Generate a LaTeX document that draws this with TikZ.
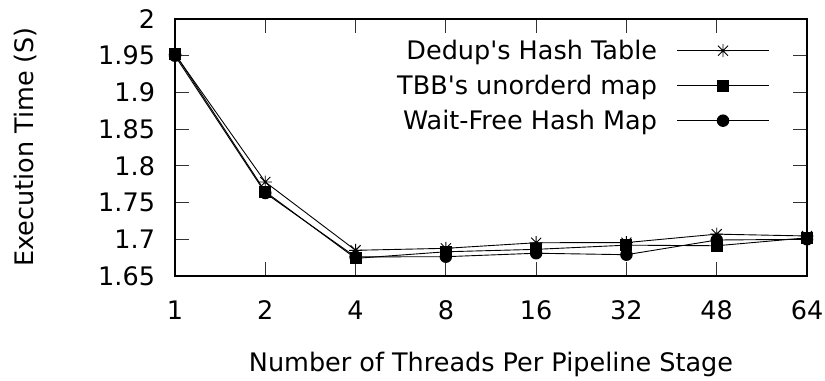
\documentclass[tikz,border=0pt]{standalone}
\usepackage{fontspec}
\setmainfont{DejaVu Sans}
\begin{document}
\begin{tikzpicture}[
  every node/.style={font=\fontsize{25.5bp}{30bp}\selectfont, inner sep=0pt, outer sep=0pt},
  frameline/.style={line width=1.5bp, black},
  tickline/.style={line width=1bp, black!80},
  dataline/.style={line width=0.9bp, black},
  sqm/.style={rectangle, fill=black, draw=none, minimum size=12bp, inner sep=0pt},
  circm/.style={circle, fill=black, draw=none, minimum size=12.5bp, inner sep=0pt},
  starm/.pic={\draw[line width=0.9bp] (-6.5bp,0)--(6.5bp,0) (0,-6.5bp)--(0,6.5bp)
     (-5bp,-5bp)--(5bp,5bp) (-5bp,5bp)--(5bp,-5bp);}
]
\useasboundingbox (0,0) rectangle (825bp,381bp);
% ticks
\foreach \k/\lab in {0/1.65,1/1.7,2/1.75,3/1.8,4/1.85,5/1.9,6/1.95,7/2}{
  \pgfmathsetmacro{\yy}{105+\k*36.714}
  \draw[tickline] (175bp,\yy bp) -- (189bp,\yy bp);
  \draw[tickline] (807bp,\yy bp) -- (793bp,\yy bp);
  \node[anchor=east] (yl\k) at (155bp,\yy bp) {\lab};
}
\foreach \k/\lab in {0/1,1/2,2/4,3/8,4/16,5/32,6/48,7/64}{
  \pgfmathsetmacro{\xx}{175+\k*90.2857}
  \draw[tickline] (\xx bp,105bp) -- (\xx bp,119bp);
  \draw[tickline] (\xx bp,362bp) -- (\xx bp,348bp);
  \node[anchor=base] (xl\k) at (\xx bp,61.7bp) {\lab};
}
\draw[frameline] (175bp,105bp) rectangle (807bp,362bp);
% axis labels
\node[anchor=base] (xlabel) at (491bp,9.3bp) {Number of Threads Per Pipeline Stage};
\node[anchor=base, rotate=90] (ylabel) at (33bp,234bp) {Execution Time (S)};
% data
\begin{scope}[shift={(175bp,-1106.58bp)}, x=90.2857bp, y=734.29bp]
  \draw[dataline] plot coordinates {(0,1.950) (1,1.763) (2,1.676) (3,1.6763) (4,1.681) (5,1.679) (6,1.699) (7,1.700)};
  \draw[dataline] plot coordinates {(0,1.953) (1,1.7648) (2,1.674) (3,1.683) (4,1.6863) (5,1.692) (6,1.6912) (7,1.702)};
  \draw[dataline] plot coordinates {(0,1.952) (1,1.778) (2,1.685) (3,1.6877) (4,1.6953) (5,1.6955) (6,1.707) (7,1.7045)};
  \foreach \i/\v in {0/1.950,1/1.763,2/1.676,3/1.6763,4/1.681,5/1.679,6/1.699,7/1.700}
    \node[circm] (wf\i) at (\i,\v) {};
  \foreach \i/\v in {0/1.953,1/1.7648,2/1.674,3/1.683,4/1.6863,5/1.692,6/1.6912,7/1.702}
    \node[sqm] (tbb\i) at (\i,\v) {};
  \foreach \i/\v in {0/1.952,1/1.778,2/1.685,3/1.6877,4/1.6953,5/1.6955,6/1.707,7/1.7045}
    \pic at (\i,\v) {starm};
\end{scope}
% legend
\node[anchor=base east] (lg1) at (657bp,321bp) {Dedup\textquotesingle s Hash Table};
\node[anchor=base east] (lg2) at (657bp,286bp) {TBB\textquotesingle s unorderd map};
\node[anchor=base east] (lg3) at (657bp,251bp) {Wait-Free Hash Map};
\coordinate (la1) at (677bp,330.3bp); \coordinate (lb1) at (769bp,330.3bp);
\coordinate (la2) at (677bp,295.3bp); \coordinate (lb2) at (769bp,295.3bp);
\coordinate (la3) at (677bp,260.3bp); \coordinate (lb3) at (769bp,260.3bp);
\draw[dataline] (la1) -- (lb1);
\draw[dataline] (la2) -- (lb2);
\draw[dataline] (la3) -- (lb3);
\pic at (723bp,330.3bp) {starm};
\node[sqm] (lm2) at (723bp,295.3bp) {};
\node[circm] (lm3) at (723bp,260.3bp) {};
\end{tikzpicture}
\end{document}
